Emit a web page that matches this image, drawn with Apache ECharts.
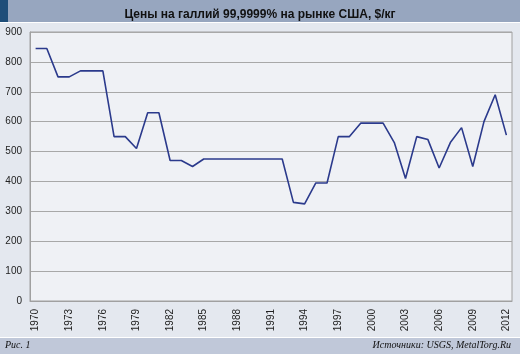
<!DOCTYPE html>
<html>
<head>
<meta charset="utf-8">
<script src="https://cdn.jsdelivr.net/npm/echarts@6/dist/echarts.min.js"></script>
<style>
html, body { margin: 0; padding: 0; background: #e4e8ef; }
#chart { width: 520px; height: 354px; }
</style>
</head>
<body>
<div id="chart"></div>
<script>
// годы и цены, $/кг
var years = []
for (var y = 1970; y <= 2012; y++) years.push(String(y))
var prices = [
    845, 845, 750, 750, 770, 770, 770, 550, 550, 510,
    630, 630, 470, 470, 450, 475, 475, 475, 475, 475,
    475, 475, 475, 330, 325, 395, 395, 550, 550, 595,
    595, 595, 530, 410, 550, 540, 445, 530, 580, 450,
    600, 690, 555
]
var yTicks = { min: 0, max: 900, step: 100 }
var titleText = 'Цены на галлий 99,9999% на рынке США, $/кг'
var figText = 'Рис. 1'
var sourceText = 'Источники: USGS, MetalTorg.Ru'

var chart = echarts.init(document.getElementById('chart'))
chart.setOption({
    backgroundColor: '#e4e8ef',
    animation: false,
    title: {
        text: titleText,
        left: 'center',
        top: 4,
        textStyle: { fontFamily: 'Liberation Sans', fontSize: 12, fontWeight: 'bold', color: '#111' }
    },
    graphic: [
        { type: 'rect', shape: { x: 0, y: 0, width: 520, height: 22 }, style: { fill: '#97a6bf' }, z: -1 },
        { type: 'rect', shape: { x: 0, y: 0, width: 8, height: 22 }, style: { fill: '#1f4e79' }, z: -1 },
        { type: 'rect', shape: { x: 0, y: 22, width: 520, height: 1 }, style: { fill: '#ffffff' }, z: -1 },
        { type: 'rect', shape: { x: 0, y: 337, width: 520, height: 1 }, style: { fill: '#ffffff' }, z: -1 },
        { type: 'rect', shape: { x: 0, y: 338, width: 520, height: 16 }, style: { fill: '#c0c8d9' }, z: -1 },
        { type: 'text', left: 5, top: 340, style: { text: figText, font: 'italic 10px "Liberation Serif"', fill: '#111' } },
        { type: 'text', right: 9, top: 340, style: { text: sourceText, font: 'italic 10px "Liberation Serif"', fill: '#111' } }
    ],
    grid: {
        left: 30, right: 8, top: 32, bottom: 53,
        show: true,
        backgroundColor: '#eff1f5',
        borderColor: '#a0a0a0',
        borderWidth: 1
    },
    xAxis: {
        type: 'category',
        data: years,
        boundaryGap: true,
        axisLine: { lineStyle: { color: '#a0a0a0' } },
        axisTick: { show: false },
        axisLabel: {
            interval: 2,
            rotate: 90,
            fontFamily: 'Liberation Sans',
            fontSize: 10,
            color: '#222',
            margin: 8
        }
    },
    yAxis: {
        type: 'value',
        min: yTicks.min,
        max: yTicks.max,
        interval: yTicks.step,
        axisLine: { show: true, lineStyle: { color: '#a0a0a0' } },
        axisTick: { show: false },
        splitLine: { lineStyle: { color: '#a8a8a8', width: 1 } },
        axisLabel: { fontFamily: 'Liberation Sans', fontSize: 10, color: '#222', margin: 8 }
    },
    series: [{
        type: 'line',
        data: prices,
        symbol: 'none',
        lineStyle: { color: '#2b3a8c', width: 1.6 }
    }]
})
</script>
</body>
</html>
